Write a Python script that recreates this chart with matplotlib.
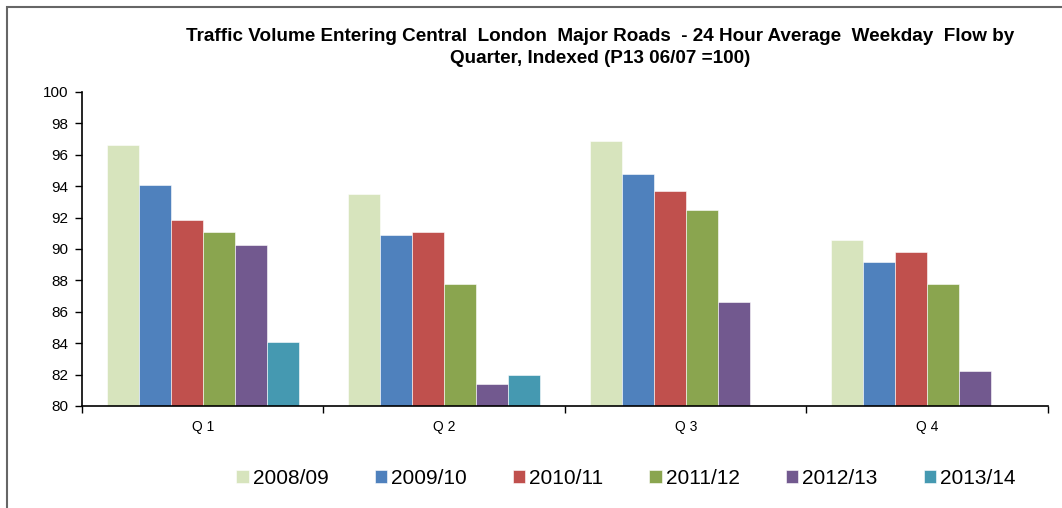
import numpy as np
import matplotlib
matplotlib.use("Agg")
import matplotlib.pyplot as plt
from matplotlib.patches import Rectangle

# data
quarters = ["Q 1", "Q 2", "Q 3", "Q 4"]
years = ["2008/09", "2009/10", "2010/11", "2011/12", "2012/13", "2013/14"]
v_0809 = [96.6, 93.5, 96.9, 90.6]
v_0910 = [94.1, 90.9, 94.8, 89.2]
v_1011 = [91.85, 91.1, 93.7, 89.8]
v_1112 = [91.1, 87.75, 92.5, 87.75]
v_1213 = [90.25, 81.4, 86.6, 82.25]
v_1314 = [84.1, 81.95, np.nan, np.nan]
colors = ["#D7E4BD", "#4F81BD", "#C0504D", "#8AA54F", "#72598F", "#4599B1"]

series = [v_0809, v_0910, v_1011, v_1112, v_1213, v_1314]

plt.rcParams["font.family"] = ["Liberation Sans", "DejaVu Sans"]

fig = plt.figure(figsize=(10.62, 5.08), dpi=100)
ax = fig.add_axes([0.0772, 0.2008, 0.9096, 0.6181])

x = np.arange(len(quarters))
w = 1.0 / (6 + 1.54)
for i, (vals, col, lab) in enumerate(zip(series, colors, years)):
    vals = np.array(vals, dtype=float)
    ax.bar(x + (i - 2.5) * w, vals - 80, bottom=80, width=w, color=col,
           edgecolor="white", linewidth=0.4, label=lab)

ax.set_xlim(-0.5, 3.5)
ax.set_ylim(80, 100)
ax.set_yticks(np.arange(80, 101, 2))
ax.tick_params(axis="y", labelsize=11, length=5, width=1, direction="out", pad=5)
ax.set_xticks(np.arange(-0.5, 3.6, 1))
ax.set_xticklabels([])
ax.set_xticks(x, minor=True)
ax.set_xticklabels(quarters, minor=True, fontsize=10)
ax.tick_params(axis="x", which="major", length=5, width=1, direction="out")
ax.tick_params(axis="x", which="minor", length=0, pad=10)
for s in ["top", "right"]:
    ax.spines[s].set_visible(False)
for s in ["left", "bottom"]:
    ax.spines[s].set_linewidth(1.2)

fig.text(0.565, 0.9065,
         "Traffic Volume Entering Central  London  Major Roads  - 24 Hour Average  Weekday  Flow by\n"
         "Quarter, Indexed (P13 06/07 =100)",
         ha="center", va="center", fontsize=13.6, fontweight="bold", linespacing=1.38)

leg = fig.legend(loc="center", bbox_to_anchor=(0.5895, 0.059), ncol=6, frameon=False,
                 handlelength=0.6, handleheight=0.6, handletextpad=0.2, columnspacing=2.2,
                 prop={"size": 15})

fig.patches.append(Rectangle((0.0066, -0.05), 1.1, 1.036, transform=fig.transFigure,
                             fill=False, edgecolor="#666666", linewidth=1.5))

fig.savefig("out.png", dpi=100)
